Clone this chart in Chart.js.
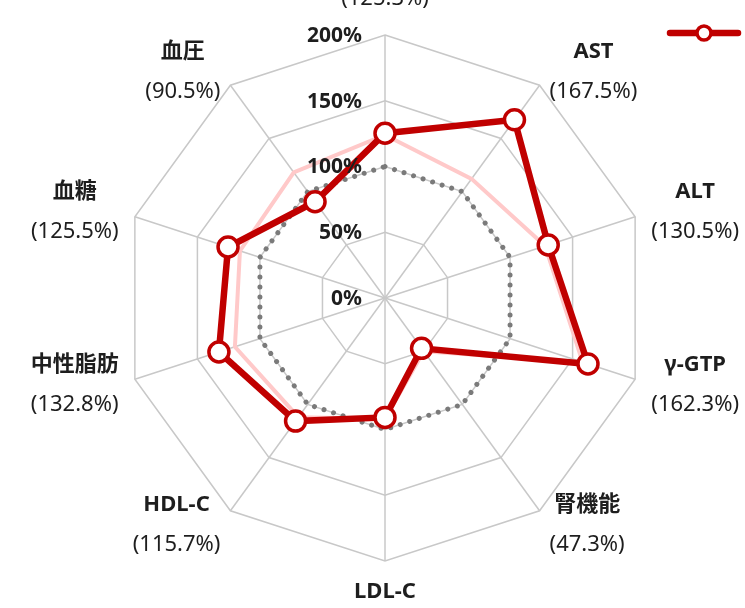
<!DOCTYPE html>
<html lang="ja">
<head>
<meta charset="utf-8">
<script src="https://cdn.jsdelivr.net/npm/chart.js@4/dist/chart.umd.min.js"></script>
<style>
  html, body { margin: 0; padding: 0; background: #fff; overflow: hidden; }
  #wrap { width: 745px; height: 608px; }
</style>
</head>
<body>
<div id="wrap"><canvas id="chart" width="745" height="608"></canvas></div>
<script>
// 項目 (時計回り、上から)
const categories = ['BMI', 'AST', 'ALT', 'γ-GTP', '腎機能', 'LDL-C', 'HDL-C', '中性脂肪', '血糖', '血圧'];
// 今回の値 (%)
const currentValues = [125.3, 167.5, 130.5, 162.3, 47.3, 90.8, 115.7, 132.8, 125.5, 90.5];
// 前回の値 (%)
const previousValues = [124, 112, 128, 158, 50, 92, 112, 120, 116, 118];
// 基準 (100%)
const baseValues = [100, 100, 100, 100, 100, 100, 100, 100, 100, 100];
// 目盛
const tickValues = [0, 50, 100, 150, 200];

const RED = '#c00000';
const FONT = '"Noto Sans", "Noto Sans CJK JP", sans-serif';

// Draw tick labels, category labels and the legend symbol
const textPlugin = {
  id: 'radarText',
  afterDatasetsDraw(chart) {
    const scale = chart.scales.r;
    const ctx = chart.ctx;
    ctx.save();
    ctx.fillStyle = '#1e1e1e';

    // tick labels, left of the vertical axis
    ctx.font = 'bold 21px ' + FONT;
    ctx.textAlign = 'right';
    ctx.textBaseline = 'middle';
    tickValues.forEach(v => {
      const y = scale.yCenter - scale.getDistanceFromCenterForValue(v);
      ctx.fillText(v + '%', scale.xCenter - 23, y + 1);
    });

    // category labels
    ctx.textAlign = 'center';
    categories.forEach((name, i) => {
      const pct = '(' + currentValues[i].toFixed(1) + '%)';
      const p = scale.getPointPosition(i, scale.drawingArea + 17);
      ctx.font = 'bold 22px ' + FONT;
      const w1 = ctx.measureText(name).width;
      ctx.font = '22px ' + FONT;
      const w2 = ctx.measureText(pct).width;
      const w = Math.max(w1, w2);
      let cx = p.x;
      if (p.x > scale.xCenter + 2) cx = p.x + w / 2;
      else if (p.x < scale.xCenter - 2) cx = p.x - w / 2;
      let yName, yPct;
      if (Math.abs(p.x - scale.xCenter) <= 2 && p.y < scale.yCenter) {
        yPct = p.y - 19;
        yName = yPct - 40;
      } else if (Math.abs(p.x - scale.xCenter) <= 2) {
        yName = p.y + 14;
        yPct = yName + 40;
      } else {
        yName = p.y - 20;
        yPct = p.y + 20;
      }
      ctx.font = 'bold 22px ' + FONT;
      ctx.fillText(name, cx, yName);
      ctx.font = '22px ' + FONT;
      ctx.fillText(pct, cx, yPct);
    });

    // legend symbol (text is outside the visible area)
    const ds = chart.data.datasets[0];
    ctx.strokeStyle = ds.borderColor;
    ctx.lineWidth = ds.borderWidth;
    ctx.lineCap = 'round';
    ctx.beginPath();
    ctx.moveTo(670, 33);
    ctx.lineTo(738, 33);
    ctx.stroke();
    ctx.beginPath();
    ctx.arc(704, 33, 7, 0, Math.PI * 2);
    ctx.fillStyle = '#fff';
    ctx.fill();
    ctx.lineWidth = 3.5;
    ctx.stroke();
    ctx.restore();
  }
};

const ctx = document.getElementById('chart').getContext('2d');
new Chart(ctx, {
  type: 'radar',
  data: {
    labels: categories,
    datasets: [
      {
        label: '今回',
        data: currentValues,
        borderColor: RED,
        borderWidth: 6.5,
        fill: false,
        pointRadius: 10,
        pointBorderWidth: 3.5,
        pointBackgroundColor: '#fff',
        pointBorderColor: RED,
        tension: 0
      },
      {
        label: '前回',
        data: previousValues,
        borderColor: '#ffc9c9',
        borderWidth: 4,
        fill: false,
        pointRadius: 0,
        tension: 0
      },
      {
        label: '基準',
        data: baseValues,
        borderColor: '#7a7a7a',
        borderWidth: 5,
        borderDash: [0.01, 10],
        borderCapStyle: 'round',
        fill: false,
        pointRadius: 0,
        tension: 0
      }
    ]
  },
  options: {
    responsive: false,
    animation: false,
    layout: {
      padding: { left: 122, top: 35, right: 97, bottom: 47 }
    },
    plugins: {
      legend: { display: false },
      tooltip: { enabled: false }
    },
    scales: {
      r: {
        min: 0,
        max: 200,
        ticks: { stepSize: 50, display: false },
        grid: { color: '#c8c8c8', lineWidth: 1.5 },
        angleLines: { color: '#c8c8c8', lineWidth: 1.5 },
        pointLabels: { display: false }
      }
    }
  },
  plugins: [textPlugin]
});
</script>
</body>
</html>
